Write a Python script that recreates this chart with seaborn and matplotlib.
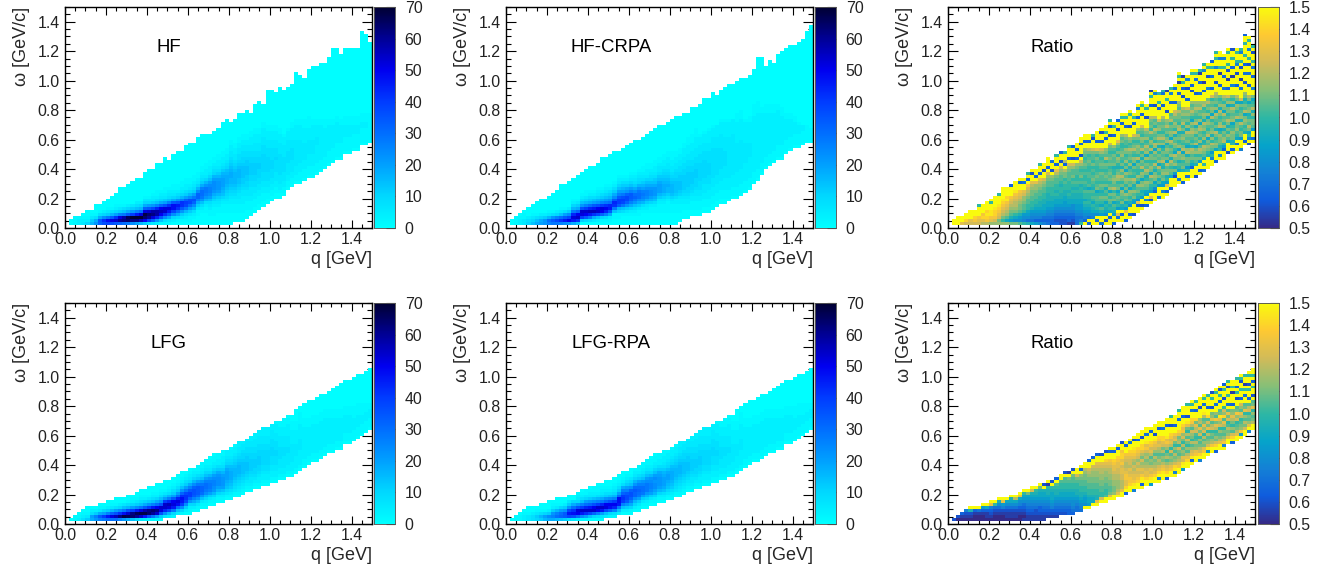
import numpy as np
import pandas as pd
import matplotlib
matplotlib.use("Agg")
import matplotlib.pyplot as plt
from matplotlib.colors import LinearSegmentedColormap
import seaborn as sns

# --- Binning: 75 x 75 cells over q, omega = 0 .. 1.5 GeV ---
N_BINS = 75
AXIS_MAX = 1.5
AXIS_TICKS = [0.0, 0.2, 0.4, 0.6, 0.8, 1.0, 1.2, 1.4]
MINOR_TICKS = [i * 0.05 for i in range(31)]
DENSITY_TICKS = [0, 10, 20, 30, 40, 50, 60, 70]
RATIO_TICKS = [0.5, 0.6, 0.7, 0.8, 0.9, 1.0, 1.1, 1.2, 1.3, 1.4, 1.5]

# One entry per q bin: first/last filled omega bin, then base-36 cell codes from the first bin up.
# Density code = value / 2; cells above the end of a code string are the lowest level.
# Ratio code: 0 = 0.5, a = 1.0, k = 1.5 (steps of 0.05). Spaces in code strings are only for counting.
HF_LO = [0] + [1] * 40 + [2, 2, 2, 3, 4, 5, 6, 7, 8, 9, 10, 10, 11, 13, 14, 15, 15, 16, 17, 17, 18, 19, 20, 21, 22, 23, 23, 25, 25, 26, 26, 28, 28, 29]
HF_HI = [-1, 2, 3, 3, 4, 5, 5, 7, 7, 8, 9, 10, 11, 13, 13, 14, 15, 16, 16, 18, 19, 19, 21, 21, 23, 22, 24, 25, 25, 27, 28, 28, 30, 31, 31, 31, 32, 33, 35, 36, 35, 36, 38, 38, 39, 38, 41, 42, 41, 46, 46, 45, 47, 46, 47, 48, 52, 51, 50, 53, 54, 54, 55, 55, 57, 60, 60, 58, 60, 60, 60, 60, 66, 65, 62]
HF_CORE = [
    "", "00", "111", "2210", "32100", "52100", "86310", "b9410", "gh941", "ilc52", "joe631", "iqh841", "hrla521",
    "guqd631", "fvte741", "ewxh952", "cvzkb63", "avznd742", "8szqf852", "6pwyqg9531", "4kuwrha531", "3gqvtjb6321",
    "2bmttmd74211", "17hpspg95321", "14clrqia63211", "139hnqld74321", "025cjooh953211", "0149flnib64211",
    "0136bhlld853211", "01248ejkga642211", "01136afjic853211", "001248cgiea643211", "00011369dggc853211",
    "00001247beffd96432 11", "0000112 48bdeeb85322 11", "000112347acddca7532211", "00011123579bccca8543211",
    "00001123468abbba86432211", "000011123578 9aaa986432211", "0000111234567899987543 2211", "00001112234567889987654332211",
    "000111223456788887654332211", "0001112233456778887654433 2211", "00011122233456677776554433 2211",
    "0001112233 4556677766544332211", "00111223334455666655443322211", "0011122334455666655443332 2211",
    "0011122334455566554433322211", "001112233444555555444333222 11", "00112233444555554443332221 1",
    "0011223344 4555444433322211", "001122333444454443332221 1", "0012233344444443333222 11", "011223334444433332221",
    "011223333444433332221", "0112233334444333222211", "0112223333333332222211", "0111222333333332222211",
    "011122233333322222111", "011122223333322221111", "01112222333332222211", "0111222222333222211", "011122222222222211",
    "01112222222222111", "0111122222222211", "01111222222 2211", "011111222222211", "01111122222211", "0111112222111", "0111112222111",
    "011111222111", "011111222111", "01111122111", "01111122111", "0111111111",
]

CRPA_LO = [0] + [1] * 41 + [2, 3, 3, 4, 4, 4, 5, 5, 6, 7, 8, 8, 9, 10, 10, 11, 12, 13, 15, 16, 18, 20, 21, 22, 23, 23, 25, 26, 27, 27, 28, 29, 29]
CRPA_HI = [-1, 2, 3, 4, 5, 6, 7, 8, 9, 9, 10, 11, 12, 14, 14, 15, 16, 17, 18, 19, 20, 20, 21, 23, 23, 24, 25, 25, 26, 27, 28, 29, 29, 30, 31, 32, 33, 34, 34, 35, 36, 37, 37, 38, 38, 40, 40, 41, 43, 43, 45, 44, 46, 47, 48, 48, 49, 50, 50, 51, 53, 57, 57, 54, 56, 55, 58, 59, 60, 61, 61, 62, 63, 66, 68]
CRPA_CORE = [
    "", "00", "111", "2210", "33110", "54200", "75310", "97410", "a9520", "bb620", "df8310", "ehb410", "ejd520",
    "dlf7310", "cnha41", "bpjc62", "9nqme8521", "7lrpg9631", "06kqrib7421", "05hprkd85311", "04ensmf96421",
    "039lsnha7421", "027jrpib85321", "015gpqkd96421", "014dmplea75321", "0129hnmfb86421", "00117elmhc96421",
    "00115 8hkkhda75321", "000147ejkiea86421", "000136bgjjgb96421", "0001259dghhda75321", "0001247begfc964321",
    "00011369cffeb854321", "00001248bdeda8643211", "000012369cddb97532211", "000011258accb97543211", "0000112479bbb976432211",
    "00001112368aaa976433211", "000011123579998765432211", "000011112468 8987654332211", "0000111235788876543322111",
    "00001112246777765543 32211", "00011122356 77766544332211", "00011223456666655443322211",
    "0001122345566666554433222111", "0011122345566665544333222111", "001112233455566655443332222111",
    "0011122334445555554443332221", "0011122333445555554443332221", "00111222334445555444433322221",
    "00111222333444444444433332221", "0011122233344444444433332222", "00111222333344444443333322221",
    "00111222233334444433333222221", "0111222233333333333333222221", "011122223333333333333322222",
    "01112222233333333332222222111", "01112222233333333332222222111", "0111222222333333322222221", "0111222222233333222222211",
    "011122222222222222222221111", "011122222222222222222221111", "01112222222222222222211", "0111222222222222222111",
    "011122222222222222111", "01112222222222222111", "0111122222222222211", "011112222222222111", "01111222222211",
    "0111122222211", "01111222211", "011112221", "0111122", "011111", "01111",
]

LFG_LO = [0] + [1] * 23 + [2, 2, 2, 3, 3, 3, 3, 4, 4, 5, 5, 6, 6, 7, 7, 8, 8, 9, 9, 10, 11, 11, 12, 12, 13, 13, 14, 14, 15, 15, 16, 16, 17, 18, 19, 20, 21, 21, 22, 23, 24, 24, 25, 25, 27, 27, 28, 29, 30, 31, 32]
LFG_HI = [-1, 1, 2, 3, 4, 5, 5, 5, 6, 6, 7, 7, 8, 8, 8, 9, 9, 10, 11, 11, 12, 12, 13, 13, 14, 14, 15, 16, 17, 17, 18, 18, 19, 20, 21, 22, 23, 23, 24, 24, 25, 26, 27, 27, 28, 29, 30, 31, 32, 32, 33, 34, 34, 35, 36, 36, 38, 39, 40, 41, 41, 42, 43, 43, 44, 45, 46, 47, 48, 48, 49, 50, 50, 51, 52]
LFG_CORE = [
    "", "0", "11", "210", "4210", "63100", "9a420", "bd620", "dh9310", "eka510", "fnd6200", "fqg8310", "fsia4100",
    "dvlc5200", "byoe7300", "9xri8410", "7wvka521", "5uxnc6310", "3ryqe7421", "2nyth9521", "1iwvkb631", "1euwnd7421",
    "0arvpf9521", "06iqrib7421", "3cmrrka631", "28jqsmd8421", "15enqpha6421", "27foqmfa6421", "15cknolgb7421", "026cjlljea6421",
    "0125bgkkhd95321", "0259dhiigc85321", "0137bfhhhea64211", "0137bfggeb753211", "01258ceffda753211", "0136adeedb853211",
    "01258bcddca753211", "01258acccb9642211", "01247abbba86432211", "0135789aaa975432211", "01246789998754 32211",
    "0134567888765432211", "0123456788876543 32211", "012345677776554332211", "01234567776654433 2211", "0123345666655443 32211",
    "012345566655443 332211", "01223455666554433 32211", "012234455555443332221 1", "012234455555443332221 1",
    "0122334445 5544433322211", "012233444554443332221 1", "012233344443333222 11", "012233334443333222111",
    "0122333344333322221 1", "0122233333322222111", "012222333322222111", "01222223333222221111", "01122222222222111",
    "0112222222222111", "0112222222222111", "0112222222222111", "0112222222222111", "0112222222222111", "011222222222111",
    "011222222222111", "01122222222111", "01122222222111", "0111222222111", "0111222222111", "011122221111", "011122221111",
    "01112221111", "0111222111", "011122211",
]

LFGRPA_CORE = [
    "", "0", "11", "110", "2210", "33100", "44200", "56310", "68410", "8a510", "9c6200", "9db621", "8fd831", "7gfa51",
    "6hhb62", "4jnjb63", "3iolf95", "2fpqib5321", "1cnrkd7421", "1alrmfa5311", "07jrngb6321", "05grpic73211", "04dprkd84211",
    "03anrme95321", "27jqpgb6421", "15gopic7421", "14dmpkd85321", "27enoofa6421", "027dklkgd9421", "026bhjjhda6421",
    "0159dgiigb7531", "0258cgghfb85321", "0136aefgfda64211", "0136aeffdb753211", "01258beeeca753211", "0136acddcb853211",
    "01258accbca753211", "01258abbba9642211", "012479aaa98643 2211", "0135789aa975432211", "0124678999875432211",
] + LFG_CORE[41:]

RATIO_HF = [
    "", "kk", "kkk", "gkk", "fikk", "fgkkk", "fhikk", "fghkkka", "egihkkk", "ehijikkk", "dghjjkkak", "dfhiijkkkk",
    "dcfghijkkka", "dacefghijkkkk", "d8bdefghjikkk", "c79bcdefghkkk3", "c68acdeefghjkkk", "b679bccdefghkk3k",
    "a567abbcddfgkk4k", "94678aabbcdefhk3ka", "845679aabbccdegkk2k", "7356789aabbcddgk3kk", "63567899aabbcdegk3kka",
    "534678899aabbcdfkk2kk", "43456788999aabbcdfk3kkk", "3345678899aaabbcdk2kk4", "3234567889a9aabbcegk3kka",
    "22345678899aa9abbcdfk2kk3", "223456778899aabaccek3ekka", "1334567889a9aaabbbcdfk3kkka", "12345668899a9abacbbdfk2kkk3",
    "44456778899a9abaabbcdk3kk3kk", "a5456778899aa9bacbabdfk2kkk3kk",
    "k356789a8a ab9abaabab cbabcdkk3k k",
    "3k46789a9a ab8baabbaa bcbacekk3k k",
    "kk5689a8ab ab9abcbaba cabbcfkkk2 a",
    "k3k68a9abb a8cbabcbaa bbcacgkk3k kk",
    "4kk79b8abc a9bcabbcab cbabdfkk3k k2k",
    "k2k689a8bc ab9cabcbab caebcdkkk3 kakk",
    "kk3k8a9bca c8dbacbcba cbcbabcfkk 2kk3ka",
    "3kk79ab8cb caebcdcaa9 cbbcabdkkk 3kkak",
    "k4fk7a9bca 8cbadecb9a cdacabdgkk k2kk3",
    "kk3k89cabc d8cacebd9c abdcbaacbd kkk3kak",
    "3kkg7a8cbd 9cacdbd8ca dbacdabbce kk3kkak",
    "k3kk69bacd 8cbdacb9da cbcebacdkk k2kkkak",
    "2kkk78cbda 9ceabac8cd abecbacfkk k3kak",
    "kk3g69acbd 8bdaabc9ea ccdbacebdk kk3kk5k",
    "k2kk7a9bdc 8cdaebc9ca ebacdabcfk kk3kkak",
    "3k5k78bcda 9cebcad8dc ebadbcekkk 2kkak",
    "k2gk79acbe 8cdbacc9ea cdabeacbce kkk3kkak1",
    "kkk36a8cdc 9beacbd8de acbceacbek kk2kkk5k",
    "4kkk7b9cab e8dbcad9db ecadcbfkkk 3kakka",
    "kk5k78cbdc 9aecbca8db ecabcbcekk k3kkk4a",
    "k3kg7a9dcb e8cacdb9dc acbecdkk2k kkakk1",
    "3kkk8bcace 9dbcace8cd bcaecbkkk3 kk5ka",
    "kkk27c9dbc e8acdbc9ea cdbcefkk3k kkk4k",
    "k5kk8ab9cc e8dbacb9ed abccebcdkk 3kkk1kak",
    "3kkk9cbadc 8ecabdc9ca ecbdcekkk2 kk3kak1",
    "k4ka7bcc9e d8acbce9da cbdcfkk3kk k2kk5k",
    "kkk38acbde 9cabcedbd8 acecbdkkk2 k3kkkak",
    "2kkk9bcadc 8ebcadc9ec abcecdkk3k kkk4kak",
    "k3kk7cadeb 9dacbed8da cbecdkk4kk k3kk1a",
    "4kak8bcdea 9dbadce9cd baedkkk3kk 1kkk5ka",
    "kkkk9acdbc 8ecabdc8da cbeckkk5kk k2kkak",
    "kk5a7bcead 9dcbcae8cd bcafkk3kkk 4kkak3",
    "3kkk8cdbac e9cabce8da cbdekkk2kk kk5kkaka",
    "k6ka9bccda 8edbace9db ackkk3kkk1 kakk5kk",
    "kkk37aedbc 9dacbe8cda cekk4kkk3k kakk5k",
    "2kkk8bdac9 cebacc8dbf kk3kk1kk2k akkkak",
    "k3ka9ccdba 8dcbce9dac kkk5kk1kk3 kkakk2",
    "kk4k8abdcc 9ebacd8cek kk3kkk2kk5 akkak",
    "5kkk7ccabe 9dcbac8fkk k4kk1kkk2k akk5a",
    "k3kk9bacdc 8ebca9cdkk k2kk4kk3kk akkkakk3",
    "2k6a8cebca 9dcb8cekkk 3kkk4kk2ka kk5kkak",
    "k4kk7bccad 9eba8ckk5k kk3kk4kakk 2ka",
]

RATIO_LFG = [
    "", "2", "02", "013", "0125", "0129k", "0013k", "0014k", "00137k", "01138k", "01235gk", "00124ak", "0012469k", "001257gk",
    "0112468k", "01124689k", "0112468ek", "00123568gk", "101234678ak", "112345678ck", "1123456789fk", "1122456789ak",
    "11233567889ck", "11234567889k2", "1234567899a1k", "1235678889ak2", "1234567899abk3", "234567889aabkk", "234567889aabbk2",
    "334567889aabck1", "345667889aabbck2", "44567899aabcfkk", "4567899aabbcdk3k", "k67789aabbccdekk", "k7889aabbccdefkk3",
    "k889aabbccddefkk3", "kg99aabbccddefgkk3", "kfaabbccddeefgkk2", "kkbaabbccddefgikk2", "kgcbbccddeefghkk3k", "kkdccddeefgghikk3k",
    "kgedddeeffgghikk3k", "kkgeeeffggfhgiihkk2", "3kigghhgfeefghkk3k", "kkihhgfgeffghikk4k", "5kjhggfefdeghijkk2k", "kkihgfgefdfghikk3kk",
    "k3kjhfgedf cegiikk2kk",
    "kkiggfedce dfhgjkk4kk",
    "7kjhfgecdb egfhikkk3k",
    "kkigfedceb dfghjk2kkk",
    "k5kigfdecb degfhikk3kk",
    "kkjhgecdbe cfgiikk4kk",
    "3kigfdbeca dfhgjkkk3kk",
    "kkhgecdbfa egfhikk2kka",
    "k5jifdcebd acgfhkk3kkk",
    "kkhgedbcfa edcgikkk4kka",
    "7kjfgcdbea cfdhgikk3kkk",
    "kkigebdacf beacgjk2kkka",
    "k3jgfdbeac dfbehikk4kak",
    "kkhgdcebab fegcikk3kka",
    "5kifecbdaf cgbedkkk2kkk",
    "kkhgcdbeaf dgcbejkk4kak",
    "k7jfdcbeag cfbikk3kkka",
    "kkhedbcafe bgdck2kkak2",
    "3kifcdbaeg chbdkk4kkkak",
    "kkgecbdafd gjcbkk3kak2k",
    "k5hfdbcaeg bidfakk2kkak3",
    "kkgdcebafc gbk4kkakk2ka",
    "3kifbdaceg dck3kkk1kakk",
    "kkgecbafdh cbkk2kak3kka",
    "k7hdcbaegb dfk3kkakk2ak",
    "kkfcebdagc bkk4kak1kka",
    "5kgdbcafeb k3kkak2kkak",
    "kkecbdagcb k2kkak3kakk",
]

PANELS = [
    ("HF", HF_LO, HF_HI, HF_CORE, "density"),
    ("HF-CRPA", CRPA_LO, CRPA_HI, CRPA_CORE, "density"),
    ("Ratio", HF_LO, HF_HI, RATIO_HF, "ratio"),
    ("LFG", LFG_LO, LFG_HI, LFG_CORE, "density"),
    ("LFG-RPA", LFG_LO, LFG_HI, LFGRPA_CORE, "density"),
    ("Ratio", LFG_LO, LFG_HI, RATIO_LFG, "ratio"),
]


def decode(lo, hi, codes, kind):
    grid = np.full((N_BINS, N_BINS), np.nan)
    for k, (start, end, column) in enumerate(zip(lo, hi, codes)):
        if kind == "density":
            # cells above the code string keep the lowest level
            grid[start:end + 1, k] = 0.5
        for i, c in enumerate(column.replace(" ", "")):
            row = start + i
            if row >= N_BINS or (kind == "density" and row > end):
                break
            level = int(c, 36)
            if kind == "density":
                grid[row, k] = max(level * 2, 0.5)
            else:
                grid[row, k] = 0.5 + level * 0.05
    centers = [(i + 0.5) * AXIS_MAX / N_BINS for i in range(N_BINS)]
    return pd.DataFrame(grid, index=centers, columns=centers)


sns.set_theme(style="white")
plt.rcParams.update({
    "font.family": ["Liberation Sans", "DejaVu Sans"],
    "axes.linewidth": 1.0,
    "text.color": "#222222",
    "xtick.color": "black",
    "ytick.color": "black",
    "xtick.labelcolor": "#222222",
    "ytick.labelcolor": "#222222",
})

density_cmap = LinearSegmentedColormap.from_list("cyan_navy", [
    (0.0, "#00ffff"), (1 / 7, "#00d8ff"), (2 / 7, "#00a0ff"), (3 / 7, "#006eff"),
    (4 / 7, "#003cff"), (5 / 7, "#0000f0"), (6 / 7, "#000096"), (1.0, "#000032"),
])
ratio_cmap = LinearSegmentedColormap.from_list("bird", [
    (0.208, 0.166, 0.529), (0.059, 0.360, 0.868), (0.078, 0.504, 0.838),
    (0.023, 0.642, 0.791), (0.180, 0.718, 0.643), (0.530, 0.749, 0.466),
    (0.819, 0.733, 0.350), (0.996, 0.786, 0.197), (0.976, 0.983, 0.054),
])

W, H = 1317, 571
fig = plt.figure(figsize=(W / 100, H / 100), dpi=100)

left_px = [65, 506, 948]
cbar_px = [374, 815, 1258]
top_px = [7, 303]
title_px = [(157, 48), (570, 48), (1031, 48), (151, 344), (571, 344), (1031, 344)]
AX_W, AX_H, CB_W = 307, 221, 21


def to_bin(v):
    return v / AXIS_MAX * N_BINS


for idx, (title, lo, hi, codes, kind) in enumerate(PANELS):
    row, col = divmod(idx, 3)
    x0, y0 = left_px[col], top_px[row]
    ax = fig.add_axes([x0 / W, 1 - (y0 + AX_H) / H, AX_W / W, AX_H / H])
    cax = fig.add_axes([cbar_px[col] / W, 1 - (y0 + AX_H) / H, CB_W / W, AX_H / H])
    df = decode(lo, hi, codes, kind)
    is_density = kind == "density"
    sns.heatmap(
        df, ax=ax, cbar_ax=cax,
        cmap=density_cmap if is_density else ratio_cmap,
        vmin=0 if is_density else 0.5, vmax=70 if is_density else 1.5,
        xticklabels=False, yticklabels=False,
    )
    ax.invert_yaxis()
    for side in ax.spines.values():
        side.set_visible(True)
        side.set_color("black")
        side.set_linewidth(1.0)

    ticks = [to_bin(v) for v in AXIS_TICKS]
    labels = [f"{v:.1f}" for v in AXIS_TICKS]
    minor = [to_bin(v) for v in MINOR_TICKS]
    ax.set_xticks(ticks, labels)
    ax.set_yticks(ticks, labels, rotation=0)
    ax.set_xticks(minor, minor=True)
    ax.set_yticks(minor, minor=True)
    ax.tick_params(axis="x", which="major", direction="in", top=True, bottom=True, length=6.0, width=0.8, labelsize=11.4, pad=3)
    ax.tick_params(axis="x", which="minor", direction="in", top=True, bottom=True, length=3.0, width=0.8)
    ax.tick_params(axis="y", which="major", direction="in", left=True, right=True, length=7.0, width=0.8, labelsize=11.4, pad=4)
    ax.tick_params(axis="y", which="minor", direction="in", left=True, right=True, length=3.5, width=0.8)

    ax.set_xlabel("q [GeV]", fontsize=13, ha="right")
    ax.xaxis.set_label_coords(1.0, -0.105)
    ax.set_ylabel("ω [GeV/c]", fontsize=13, ha="right")
    ax.yaxis.set_label_coords(-0.113, 1.0)
    ax.text((title_px[idx][0] - x0) / AX_W, 1 - (title_px[idx][1] - y0) / AX_H, title,
            transform=ax.transAxes, fontsize=13.4, ha="left", va="center", color="black")

    cax.set_yticks(DENSITY_TICKS if is_density else RATIO_TICKS,
                   [str(t) for t in DENSITY_TICKS] if is_density else [f"{t:.1f}" for t in RATIO_TICKS])
    cax.tick_params(axis="y", direction="in", left=False, right=True, length=6.5, width=0.8, labelsize=11.4, pad=7, color="black")
    for side in cax.spines.values():
        side.set_visible(True)
        side.set_color("#555555")
        side.set_linewidth(0.5)

fig.savefig("out.png", dpi=100)
